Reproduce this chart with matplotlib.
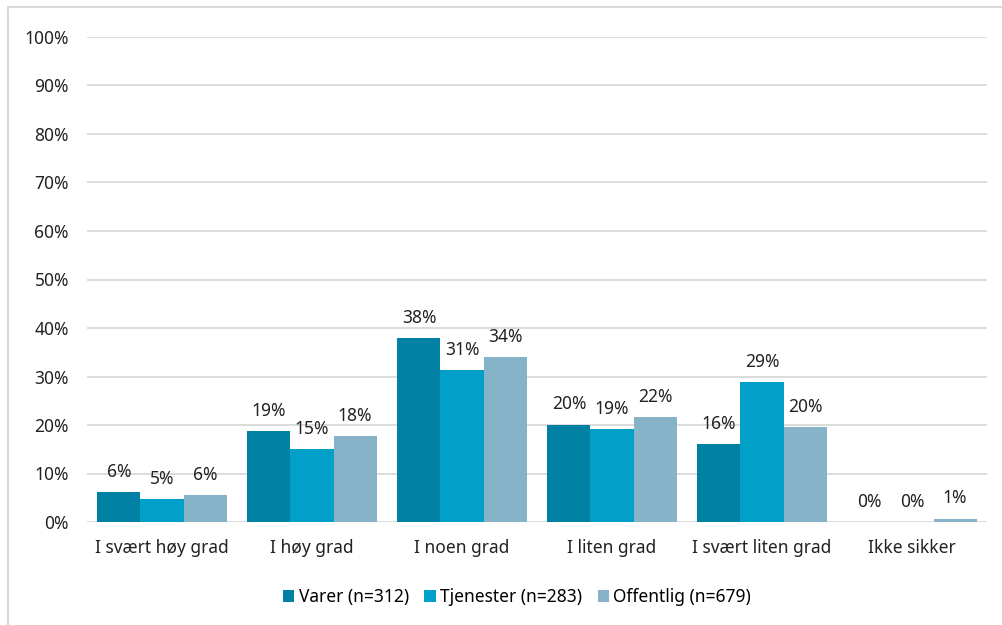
import matplotlib.pyplot as plt
from matplotlib.patches import Rectangle
import numpy as np

plt.rcParams['font.family'] = ['Noto Sans', 'DejaVu Sans']

categories = ['I svært høy grad', 'I høy grad', 'I noen grad', 'I liten grad',
              'I svært liten grad', 'Ikke sikker']
series_names = ['Varer (n=312)', 'Tjenester (n=283)', 'Offentlig (n=679)']
varer = [6.2, 18.8, 38.0, 20.1, 16.1, 0.0]
tjenester = [4.7, 15.1, 31.3, 19.2, 28.9, 0.0]
offentlig = [5.6, 17.7, 34.0, 21.6, 19.5, 0.7]
colors = ['#0080A2', '#00A0C9', '#86B3C8']

fs = 12.5
fig = plt.figure(figsize=(10.03, 6.25), dpi=100)
ax = fig.add_axes([87 / 1003, 103 / 625, 900 / 1003, 485 / 625])

# light frame round the chart area (only left/top edges fall inside the image)
fig.patches.append(Rectangle((8 / 1003, -0.1), 1.2, (625 - 7) / 625 + 0.1,
                             transform=fig.transFigure, fill=False,
                             edgecolor='#D9D9D9', linewidth=1.5))

x = np.arange(len(categories))
width = 0.287
handles = []
for k, (vals, name, col) in enumerate(zip([varer, tjenester, offentlig], series_names, colors)):
    bars = ax.bar(x + (k - 1) * width, vals, width, color=col, label=name, zorder=3)
    handles.append(bars)
    for b, v in zip(bars, vals):
        ax.text(b.get_x() + b.get_width() / 2, v + 2.3, f'{v:.0f}%',
                ha='center', va='bottom', fontsize=fs, color='#222222')

ax.set_xlim(-0.5, len(categories) - 0.5)
ax.set_ylim(0, 100)
ax.set_yticks(np.arange(0, 101, 10))
ax.set_yticklabels([f'{t}%' for t in range(0, 101, 10)], fontsize=fs, color='#222222')
ax.set_xticks(x)
ax.set_xticklabels(categories, fontsize=fs, color='#222222')
ax.tick_params(axis='both', length=0)
ax.tick_params(axis='y', pad=13)
ax.tick_params(axis='x', pad=12)
ax.grid(axis='y', color='#D9D9D9', linewidth=1.3, zorder=0)
for s in ax.spines.values():
    s.set_visible(False)

fig.legend(handles=handles, loc='center', bbox_to_anchor=(517 / 1003, 1 - 597 / 625),
           ncol=3, frameon=False, fontsize=fs, handlelength=0.65, handleheight=0.65,
           handletextpad=0.25, columnspacing=0.9)

fig.savefig('out.png', dpi=100)
